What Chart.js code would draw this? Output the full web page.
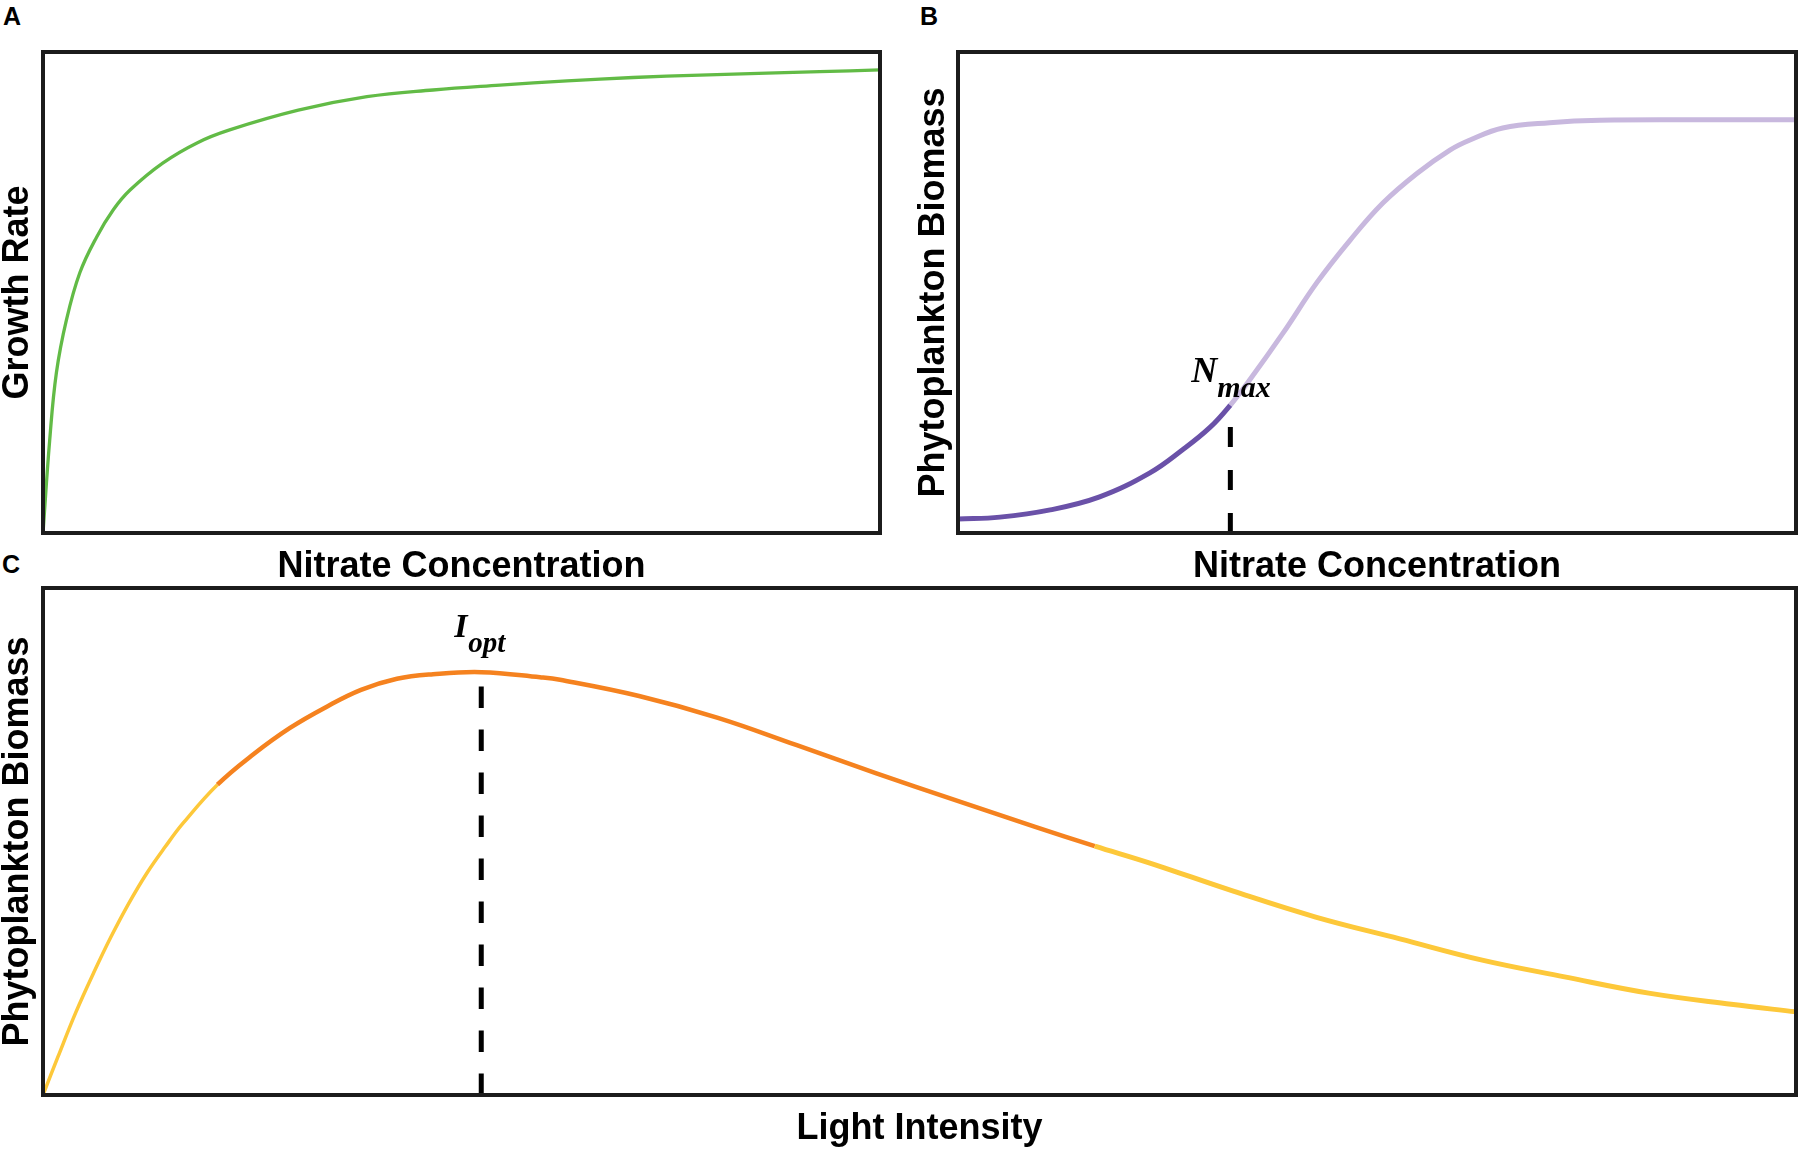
<!DOCTYPE html>
<html>
<head>
<meta charset="utf-8">
<script src="https://cdn.jsdelivr.net/npm/chart.js@4.4.1/dist/chart.umd.min.js"></script>
<style>
  html, body { margin: 0; padding: 0; background: #fff; width: 1801px; height: 1149px; overflow: hidden; }
  canvas { position: absolute; }
  .tag { position: absolute; font: bold 25px "Liberation Sans", Arial, sans-serif; line-height: 25px; color: #000; }
</style>
</head>
<body>
<div class="tag" style="left:3px;top:4px">A</div>
<div class="tag" style="left:920px;top:4px">B</div>
<div class="tag" style="left:2px;top:552px">C</div>
<canvas id="chartA" width="900" height="600" style="left:0;top:0"></canvas>
<canvas id="chartB" width="901" height="600" style="left:900px;top:0"></canvas>
<canvas id="chartC" width="1801" height="609" style="left:0;top:540px"></canvas>
<script>
// panel A: growth rate against nitrate (arbitrary units)
var growthNitrate = [0, 0.8, 1.6, 2.8, 4.4, 6.4, 8.4, 10.4, 14.3, 18.4, 22.3, 30.5, 38.7, 46.6, 54.6, 62.6, 70.5, 78.5, 86.5, 92.8, 100];
var growthRate = [0, 19.3, 33.3, 44.3, 54.1, 61.5, 67.2, 71.3, 76.9, 81.1, 83.8, 87.9, 90.7, 92.1, 93.1, 94.0, 94.7, 95.2, 95.6, 95.9, 96.3];

// panel B: biomass against nitrate
var biomassNitrate = [0, 5.0, 11.0, 16.9, 22.9, 26.8, 30.1, 32.5, 34.8, 38.8, 42.8, 46.8, 50.7, 54.8, 58.7, 61.1, 65.0, 70.6, 76.6, 88.5, 100];
var biomassN = [2.9, 3.3, 4.8, 7.5, 12.5, 17.3, 22.0, 26.6, 31.8, 41.6, 52.0, 60.9, 68.6, 74.8, 79.6, 81.7, 84.2, 85.3, 85.8, 85.9, 85.9];
var nMax = 32.5;

// panel C: biomass against light
var light = [0, 0.85, 1.86, 2.89, 3.88, 4.91, 5.93, 6.96, 7.99, 9.95, 12.04, 14.09, 16.14, 18.14, 20.19, 22.25, 25.0, 28.35, 29.49, 34.0, 38.5, 43.0, 47.5, 52.0, 56.6, 60.0, 63.1, 67.9, 72.6, 77.4, 82.1, 86.8, 91.6, 96.3, 100];
var biomassLight = [0, 7.5, 16.2, 24.1, 31.2, 37.9, 43.8, 48.9, 53.6, 61.2, 67.3, 72.4, 76.5, 79.9, 82.1, 83.0, 83.4, 82.4, 81.9, 78.7, 74.4, 69.0, 63.5, 58.2, 52.9, 49.1, 45.8, 40.2, 35.1, 30.8, 26.6, 23.3, 20.1, 17.9, 16.4];
var iOpt = 25.0;
var lowLightEnd = 9.95;
var highLightStart = 60.0;

var sansFont = '"Liberation Sans", Arial, sans-serif';
var serifFont = '"Liberation Serif", "Times New Roman", serif';
Chart.defaults.font.family = sansFont;

function points(xs, ys) {
  var out = [];
  for (var i = 0; i < xs.length; i++) out.push({ x: xs[i], y: ys[i] });
  return out;
}

function valueAt(xs, ys, x) {
  return ys[xs.indexOf(x)];
}

// black box around the plot area
Chart.register({
  id: "frame",
  afterDatasetsDraw: function (chart) {
    var a = chart.chartArea;
    var ctx = chart.ctx;
    ctx.save();
    ctx.lineWidth = 4;
    ctx.strokeStyle = "#1c1c1c";
    ctx.strokeRect(a.left, a.top, a.right - a.left, a.bottom - a.top);
    ctx.restore();
  },
});

// italic label with subscript next to a data point
function subLabel(main, sub, x, y, mainSize, subSize, off) {
  return {
    id: "subLabel",
    afterDatasetsDraw: function (chart) {
      var ctx = chart.ctx;
      var px = chart.scales.x.getPixelForValue(x);
      var py = chart.scales.y.getPixelForValue(y);
      ctx.save();
      ctx.fillStyle = "#000";
      ctx.textBaseline = "alphabetic";
      ctx.font = "italic bold " + mainSize + "px " + serifFont;
      ctx.fillText(main, px + off[0], py + off[1]);
      ctx.font = "italic bold " + subSize + "px " + serifFont;
      ctx.fillText(sub, px + off[2], py + off[3]);
      ctx.restore();
    },
  };
}

function axes(xTitle, yTitle, xPad, yPad) {
  var hidden = {
    type: "linear",
    min: 0,
    max: 100,
    ticks: { display: false },
    grid: { display: false, drawTicks: false },
    border: { display: false },
  };
  var x = Object.assign({}, hidden, {
    title: { display: true, text: xTitle, color: "#000", font: { size: 36, weight: "bold", lineHeight: 1 }, padding: xPad },
  });
  var y = Object.assign({}, hidden, {
    title: { display: true, text: yTitle, color: "#000", font: { size: 36, weight: "bold", lineHeight: 1 }, padding: yPad },
  });
  return { x: x, y: y };
}

function baseOptions(layoutPad, scales) {
  return {
    responsive: false,
    animation: false,
    layout: { padding: layoutPad },
    plugins: { legend: { display: false }, tooltip: { enabled: false } },
    elements: { point: { radius: 0 }, line: { tension: 0.4 } },
    scales: scales,
  };
}

// A
new Chart(document.getElementById("chartA"), {
  type: "line",
  data: {
    datasets: [
      {
        data: points(growthNitrate, growthRate),
        borderColor: "#62bb46",
        borderWidth: 3.3,
      },
    ],
  },
  options: baseOptions(
    { left: 0, top: 52, right: 20, bottom: 10.5 },
    axes("Nitrate Concentration", "Growth Rate", { top: 16.5, bottom: 4 }, { top: 0, bottom: 7 })
  ),
});

// B
var nMaxY = valueAt(biomassNitrate, biomassN, nMax);
new Chart(document.getElementById("chartB"), {
  type: "line",
  data: {
    datasets: [
      {
        data: points(biomassNitrate, biomassN),
        borderWidth: 5,
        borderColor: "#6a51a8",
        segment: {
          borderColor: function (ctx) {
            return ctx.p0.parsed.x < nMax ? "#6a51a8" : "#c8b8de";
          },
        },
      },
      {
        data: [{ x: nMax, y: 0 }, { x: nMax, y: nMaxY }],
        borderColor: "#000",
        borderWidth: 5,
        borderDash: [20, 23],
        borderCapStyle: "butt",
        tension: 0,
      },
    ],
  },
  options: baseOptions(
    { left: 0, top: 52, right: 5, bottom: 10.5 },
    axes("Nitrate Concentration", "Phytoplankton Biomass", { top: 16.5, bottom: 4 }, { top: 16, bottom: 6 })
  ),
  plugins: [subLabel("N", "max", nMax, nMaxY, 36, 30, [-39, -23, -13, -8])],
});

// C
var iOptY = valueAt(light, biomassLight, iOpt);
new Chart(document.getElementById("chartC"), {
  type: "line",
  data: {
    datasets: [
      {
        data: points(light, biomassLight),
        borderWidth: 4,
        borderColor: "#fdc83a",
        segment: {
          borderColor: function (ctx) {
            var x = ctx.p0.parsed.x;
            return x >= lowLightEnd && x < highLightStart ? "#f5821f" : "#fdc83a";
          },
          borderWidth: function (ctx) {
            var x = ctx.p0.parsed.x;
            if (x < lowLightEnd) return 3.5;
            return x < highLightStart ? 4.5 : 5;
          },
        },
      },
      {
        data: [{ x: iOpt, y: 0 }, { x: iOpt, y: iOptY }],
        borderColor: "#000",
        borderWidth: 5,
        borderDash: [21.5, 21.5],
        borderCapStyle: "butt",
        tension: 0,
      },
    ],
  },
  options: baseOptions(
    { left: 0, top: 48, right: 5, bottom: 0 },
    axes("Light Intensity", "Phytoplankton Biomass", { top: 16, bottom: 2 }, { top: 0, bottom: 7 })
  ),
  plugins: [subLabel("I", "opt", iOpt, iOptY, 34, 29, [-27, -35, -13, -20])],
});
</script>
</body>
</html>
